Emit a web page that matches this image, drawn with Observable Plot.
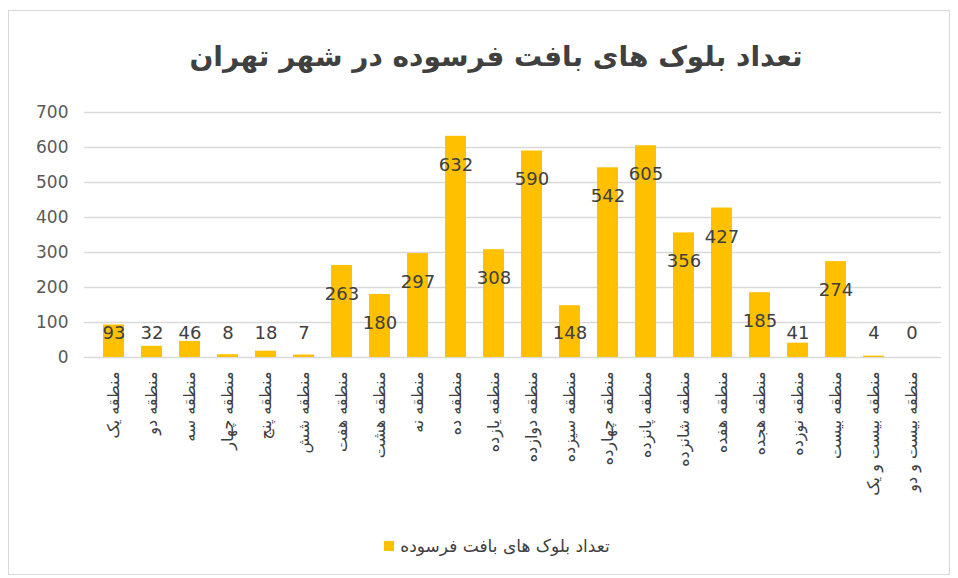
<!DOCTYPE html>
<html>
<head>
<meta charset="utf-8">
<script src="https://cdn.jsdelivr.net/npm/d3@7"></script>
<script src="https://cdn.jsdelivr.net/npm/@observablehq/plot@0.6"></script>
<style>
  html, body { margin: 0; padding: 0; background: #fff; }
  #wrap { position: relative; width: 958px; height: 578px; overflow: hidden; font-family: "DejaVu Sans", sans-serif; }
  #frame { position: absolute; left: 8px; top: 10px; width: 942px; height: 565px; border: 1px solid #d9d9d9; box-sizing: border-box; }
  #title { position: absolute; left: 0; width: 992px; top: 40px; text-align: center; font-size: 28px; font-weight: bold; color: #404040; direction: rtl; }
  #chart { position: absolute; left: 0; top: 0; }
  #legend { position: absolute; left: 0; width: 994px; top: 535px; text-align: center; font-size: 17px; color: #404040; }
  #legend .sw { display: inline-block; width: 10px; height: 10px; background: #FFC000; vertical-align: middle; margin-right: 6px; }
  #legend .tx { vertical-align: middle; direction: rtl; unicode-bidi: embed; }
</style>
</head>
<body>
<div id="wrap">
  <div id="frame"></div>
  <div id="chart"></div>
  <div id="title"></div>
  <div id="legend"></div>
</div>
<script>
const titleText = "تعداد بلوک های بافت فرسوده در شهر تهران";
const seriesName = "تعداد بلوک های بافت فرسوده";
const categories = [
  "منطقه یک", "منطقه دو", "منطقه سه", "منطقه چهار", "منطقه پنج", "منطقه شش",
  "منطقه هفت", "منطقه هشت", "منطقه نه", "منطقه ده", "منطقه یازده", "منطقه دوازده",
  "منطقه سیزده", "منطقه چهارده", "منطقه پانزده", "منطقه شانزده", "منطقه هفده",
  "منطقه هجده", "منطقه نوزده", "منطقه بیست", "منطقه بیست و یک", "منطقه بیست و دو"
];
const values = [93, 32, 46, 8, 18, 7, 263, 180, 297, 632, 308, 590, 148, 542, 605, 356, 427, 185, 41, 274, 4, 0];
const yTicks = [0, 100, 200, 300, 400, 500, 600, 700];

const data = categories.map((c, i) => ({ cat: c, v: values[i] }));

document.getElementById("title").textContent = titleText;
document.getElementById("legend").innerHTML = '<span class="sw"></span><span class="tx"></span>';
document.querySelector("#legend .tx").textContent = seriesName;

const chart = Plot.plot({
  width: 958,
  height: 530,
  marginTop: 112,
  marginBottom: 173,
  marginLeft: 84,
  marginRight: 17,
  style: { fontFamily: "DejaVu Sans, sans-serif", background: "transparent" },
  x: { domain: categories, padding: 0.44 },
  y: { domain: [0, 700] },
  marks: [
    Plot.gridY(yTicks, { stroke: "#d9d9d9", strokeOpacity: 1, strokeWidth: 1.3 }),
    Plot.barY(data, { x: "cat", y: "v", fill: "#FFC000" }),
    Plot.axisY(yTicks, { tickSize: 0, tickPadding: 16, fontSize: 17, fill: "#595959", label: null }),
    Plot.axisX({ tickSize: 0, tickPadding: 14, tickRotate: -90, fontSize: 16, fill: "#404040", label: null }),
    Plot.text(data, { x: "cat", y: d => Math.max(d.v - 82, 69), text: d => String(d.v), fontSize: 18, fill: "#404040" })
  ]
});
document.getElementById("chart").appendChild(chart);
</script>
</body>
</html>
